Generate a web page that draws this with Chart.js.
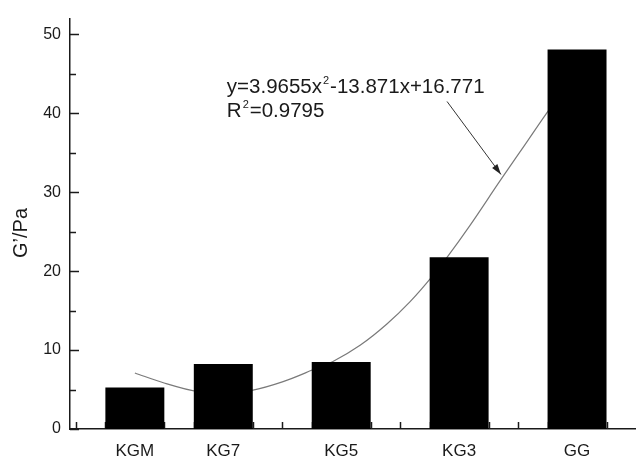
<!DOCTYPE html>
<html>
<head>
<meta charset="utf-8">
<script src="https://cdn.jsdelivr.net/npm/chart.js@4.4.1/dist/chart.umd.min.js"></script>
<style>
  html, body { margin: 0; padding: 0; background: #fff; }
  #wrap { width: 636px; height: 461px; position: relative; }
</style>
</head>
<body>
<div id="wrap"><canvas id="chart"></canvas></div>
<script>
// Muestras (eje X) y módulo G' medido
const muestras = ['KGM', 'KG7', 'KG5', 'KG3', 'GG'];
const posX = [2, 5, 9, 13, 17];              // centro de cada barra sobre el eje
const valoresG = [5.25, 8.25, 8.5, 21.75, 48.1];

// Curva de ajuste
const curvaX = [2.0, 3.02, 4.11, 5.02, 5.97, 7.03, 8.04, 8.72, 9.64, 10.55, 11.33, 12.08, 12.62, 13.37, 14.38, 15.23, 16.08, 17.0];
const curvaY = [7.1, 5.8, 4.75, 4.55, 4.9, 6.0, 7.5, 8.56, 10.6, 13.3, 16.1, 19.3, 21.9, 25.8, 31.4, 36.0, 40.6, 45.0];

const ticksY = [0, 10, 20, 30, 40, 50];
const ecuacion = 'y=3.9655x';
const ecuacionResto = '-13.871x+16.771';
const r2 = '0.9795';

const negro = '#1a1a1a';
const fuente = '"Liberation Sans", Arial, sans-serif';

// Plugin: marcas interiores de los ejes, título Y, ecuación y flecha
const decoracion = {
  id: 'decoracion',
  beforeDatasetsDraw(chart) {
    const { ctx, scales: { x, y } } = chart;
    const y0 = y.getPixelForValue(0);
    const x0 = x.left;
    ctx.save();
    ctx.strokeStyle = negro;
    ctx.lineWidth = 1.5;
    for (let v = 0; v <= 18; v++) {
      const px = Math.round(x.getPixelForValue(v)) + 0.5;
      ctx.beginPath(); ctx.moveTo(px, y0); ctx.lineTo(px, y0 - 7); ctx.stroke();
    }
    for (let v = 0; v <= 50; v += 5) {
      const py = Math.round(y.getPixelForValue(v)) + 0.5;
      const len = v % 10 === 0 ? 9 : 6;
      ctx.beginPath(); ctx.moveTo(x0, py); ctx.lineTo(x0 + len, py); ctx.stroke();
    }
    ctx.restore();
  },
  afterDraw(chart) {
    const { ctx, scales: { x, y } } = chart;
    ctx.save();
    ctx.fillStyle = negro;
    // título del eje Y
    ctx.translate(21, 233);
    ctx.rotate(-Math.PI / 2);
    ctx.font = '20px ' + fuente;
    ctx.textAlign = 'center';
    ctx.textBaseline = 'middle';
    ctx.fillText('G’/Pa', 0, 0);
    ctx.restore();

    // ecuación
    ctx.save();
    ctx.fillStyle = negro;
    ctx.textBaseline = 'alphabetic';
    ctx.textAlign = 'left';
    const tx = x.getPixelForValue(5.12);
    const ty1 = y.getPixelForValue(42.6);
    const ty2 = y.getPixelForValue(39.5);
    ctx.font = '20.5px ' + fuente;
    ctx.fillText(ecuacion, tx, ty1);
    let w = ctx.measureText(ecuacion).width;
    ctx.font = '11px ' + fuente;
    ctx.fillText('2', tx + w + 1, ty1 - 9);
    const w2 = ctx.measureText('2').width;
    ctx.font = '20.5px ' + fuente;
    ctx.fillText(ecuacionResto, tx + w + w2 + 2, ty1);

    ctx.fillText('R', tx, ty2);
    w = ctx.measureText('R').width;
    ctx.font = '11px ' + fuente;
    ctx.fillText('2', tx + w + 1, ty2 - 9);
    ctx.font = '20.5px ' + fuente;
    ctx.fillText('=' + r2, tx + w + w2 + 2, ty2);

    // flecha
    const ax1 = x.getPixelForValue(12.59), ay1 = y.getPixelForValue(41.5);
    const ax2 = x.getPixelForValue(14.42), ay2 = y.getPixelForValue(32.25);
    ctx.strokeStyle = '#333';
    ctx.lineWidth = 1;
    ctx.beginPath(); ctx.moveTo(ax1, ay1); ctx.lineTo(ax2, ay2); ctx.stroke();
    const ang = Math.atan2(ay2 - ay1, ax2 - ax1);
    const L = 11, a = 0.3;
    ctx.fillStyle = '#222';
    ctx.beginPath();
    ctx.moveTo(ax2, ay2);
    ctx.lineTo(ax2 - L * Math.cos(ang - a), ay2 - L * Math.sin(ang - a));
    ctx.lineTo(ax2 - L * Math.cos(ang + a), ay2 - L * Math.sin(ang + a));
    ctx.closePath();
    ctx.fill();
    ctx.restore();
  }
};

new Chart(document.getElementById('chart'), {
  data: {
    datasets: [
      {
        type: 'bar',
        data: posX.map((v, i) => ({ x: v, y: valoresG[i] })),
        backgroundColor: '#000',
        borderWidth: 0,
        categoryPercentage: 1,
        barPercentage: 2 / 3,
        order: 1
      },
      {
        type: 'line',
        data: curvaX.map((v, i) => ({ x: v, y: curvaY[i] })),
        borderColor: '#7a7a7a',
        borderWidth: 1.2,
        pointRadius: 0,
        cubicInterpolationMode: 'monotone',
        fill: false,
        order: 2
      }
    ]
  },
  options: {
    responsive: true,
    maintainAspectRatio: false,
    animation: false,
    layout: { padding: { top: 13, right: 0, left: 0, bottom: 0 } },
    plugins: { legend: { display: false }, tooltip: { enabled: false } },
    scales: {
      x: {
        type: 'linear',
        offset: false,
        bounds: 'data',
        min: -0.2,
        max: 19,
        afterBuildTicks(scale) { scale.ticks = posX.map(v => ({ value: v })); },
        afterFit(scale) { scale.height = 32; },
        grid: { display: false, offset: false, drawTicks: false },
        border: { display: true, color: negro, width: 1.5 },
        ticks: {
          padding: 12,
          color: negro,
          font: { family: fuente, size: 17 },
          maxRotation: 0,
          autoSkip: false,
          callback: (v) => { const i = posX.indexOf(v); return i >= 0 ? muestras[i] : ''; }
        }
      },
      y: {
        type: 'linear',
        min: 0,
        max: 52,
        afterBuildTicks(scale) { scale.ticks = ticksY.map(v => ({ value: v })); },
        afterFit(scale) { scale.width = 70; },
        grid: { display: false, drawTicks: false },
        border: { display: true, color: negro, width: 1.5 },
        ticks: {
          padding: 9,
          color: negro,
          font: { family: fuente, size: 16 }
        }
      }
    }
  },
  plugins: [decoracion]
});
</script>
</body>
</html>
